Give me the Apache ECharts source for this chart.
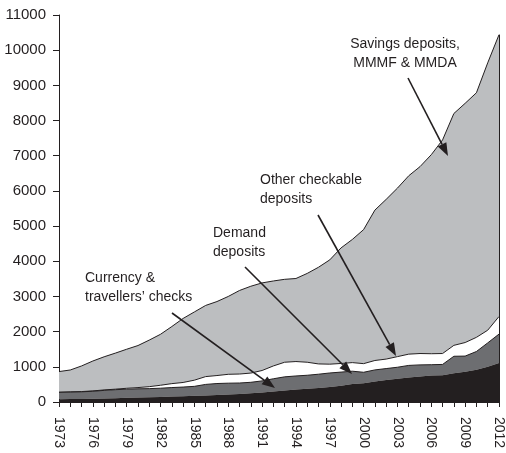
<!DOCTYPE html>
<html>
<head>
<meta charset="utf-8">
<style>
  html, body { margin: 0; padding: 0; background: #fff; }
  #chart { width: 506px; height: 453px; }
</style>
<script src="https://cdn.jsdelivr.net/npm/echarts@6/dist/echarts.min.js"></script>
</head>
<body>
<div id="chart"></div>
<script>
// ---- data (billions) ----
const years = [];
for (let y = 1973; y <= 2012; y++) years.push(String(y));

const currency = [80, 84, 88, 94, 102, 110, 118, 126, 134, 144,
  155, 165, 175, 188, 200, 212, 225, 248, 270, 295,
  325, 355, 375, 395, 425, 460, 515, 535, 580, 625,
  660, 695, 725, 750, 760, 815, 860, 915, 1000, 1110];

const demand = [195, 198, 202, 211, 228, 240, 247, 249, 246, 248,
  255, 260, 270, 312, 325, 323, 315, 312, 330, 365,
  390, 385, 385, 395, 400, 390, 360, 310, 332, 325,
  328, 345, 330, 310, 308, 485, 445, 520, 680, 820];

const otherCheckable = [3, 5, 7, 10, 13, 15, 25, 35, 56, 84,
  112, 130, 175, 222, 227, 252, 255, 262, 295, 365,
  415, 410, 370, 292, 250, 245, 245, 245, 268, 270,
  302, 320, 323, 312, 310, 310, 385, 403, 360, 500];

const savings = [587, 623, 728, 850, 942, 1025, 1110, 1195, 1324, 1449,
  1623, 1820, 1940, 2023, 2103, 2213, 2375, 2468, 2490, 2415,
  2357, 2360, 2525, 2748, 2965, 3285, 3500, 3810, 4275, 4540,
  4790, 5070, 5312, 5658, 6072, 6590, 6800, 6952, 7600, 8010];

const yTicks = { min: 0, max: 11000, step: 1000 };

const INK = '#231f20';
const FONT = '"Liberation Sans", Arial, sans-serif';

function arrow(x1, y1, x2, y2) {
  const dx = x2 - x1, dy = y2 - y1;
  const len = Math.sqrt(dx * dx + dy * dy);
  const ux = dx / len, uy = dy / len;
  const hl = 13, hw = 4.8;
  const bx = x2 - ux * hl, by = y2 - uy * hl;
  return [
    { type: 'line', silent: true, z: 100,
      shape: { x1: x1, y1: y1, x2: bx, y2: by },
      style: { stroke: INK, lineWidth: 1.6 } },
    { type: 'polygon', silent: true, z: 100,
      shape: { points: [[x2, y2], [bx - uy * hw, by + ux * hw], [bx + uy * hw, by - ux * hw]] },
      style: { fill: INK } }
  ];
}
function label(x, y, text, align) {
  return { type: 'text', silent: true, z: 100, x: x, y: y,
    style: { text: text, fill: INK, font: '14px ' + FONT, textAlign: align || 'left',
      textVerticalAlign: 'top', lineHeight: 19 } };
}

const lastTotal = currency[39] + demand[39] + otherCheckable[39] + savings[39];

const chart = echarts.init(document.getElementById('chart'), null, { renderer: 'canvas' });

function areaSeries(name, data, color, z, line) {
  return {
    name: name, type: 'line', stack: 'm', data: data, z: z,
    showSymbol: false, symbol: 'none', smooth: false,
    lineStyle: line ? { color: INK, width: 1 } : { width: 0 },
    areaStyle: { color: color, opacity: 1 },
    emphasis: { disabled: true }
  };
}

const sCurrency = areaSeries('Currency & travellers\u2019 checks', currency, INK, 6, false);
const sDemand = areaSeries('Demand deposits', demand, '#6d6e71', 5, true);
const sOther = areaSeries('Other checkable deposits', otherCheckable, '#ffffff', 4, true);
const sSavings = areaSeries('Savings deposits, MMMF & MMDA', savings, '#bcbec0', 3, true);
sSavings.markLine = {
  silent: true, symbol: ['none', 'none'], label: { show: false },
  lineStyle: { color: INK, width: 1, type: 'solid' },
  data: [[{ coord: [years.length - 1, 0] }, { coord: [years.length - 1, lastTotal] }]]
};

chart.setOption({
  animation: false,
  backgroundColor: '#ffffff',
  grid: { left: 59, right: 3, top: 15, bottom: 51, containLabel: false },
  xAxis: {
    type: 'category', data: years, boundaryGap: false,
    axisLine: { lineStyle: { color: INK, width: 1 } },
    axisTick: { interval: 0, length: 5, lineStyle: { color: INK } },
    axisLabel: { interval: 2, rotate: -90, margin: 15, color: INK, fontSize: 14, fontFamily: FONT },
    splitLine: { show: false }
  },
  yAxis: {
    type: 'value', min: yTicks.min, max: yTicks.max, interval: yTicks.step,
    axisLine: { show: true, lineStyle: { color: INK, width: 1 } },
    axisTick: { show: true, length: 6, lineStyle: { color: INK } },
    axisLabel: { margin: 13, color: INK, fontSize: 15, fontFamily: FONT,
      formatter: function (v) { return String(v); } },
    splitLine: { show: false }
  },
  series: [sCurrency, sDemand, sOther, sSavings],
  graphic: [].concat(
    label(405, 35, 'Savings deposits,\nMMMF & MMDA', 'center'),
    arrow(408, 78, 448, 156),
    label(260, 171, 'Other checkable\ndeposits'),
    arrow(318, 215, 396, 356),
    label(213, 224, 'Demand\ndeposits'),
    arrow(245, 267, 352, 374),
    label(85, 269, 'Currency &\ntravellers\u2019 checks'),
    arrow(172, 313, 275, 388)
  )
});
</script>
</body>
</html>
